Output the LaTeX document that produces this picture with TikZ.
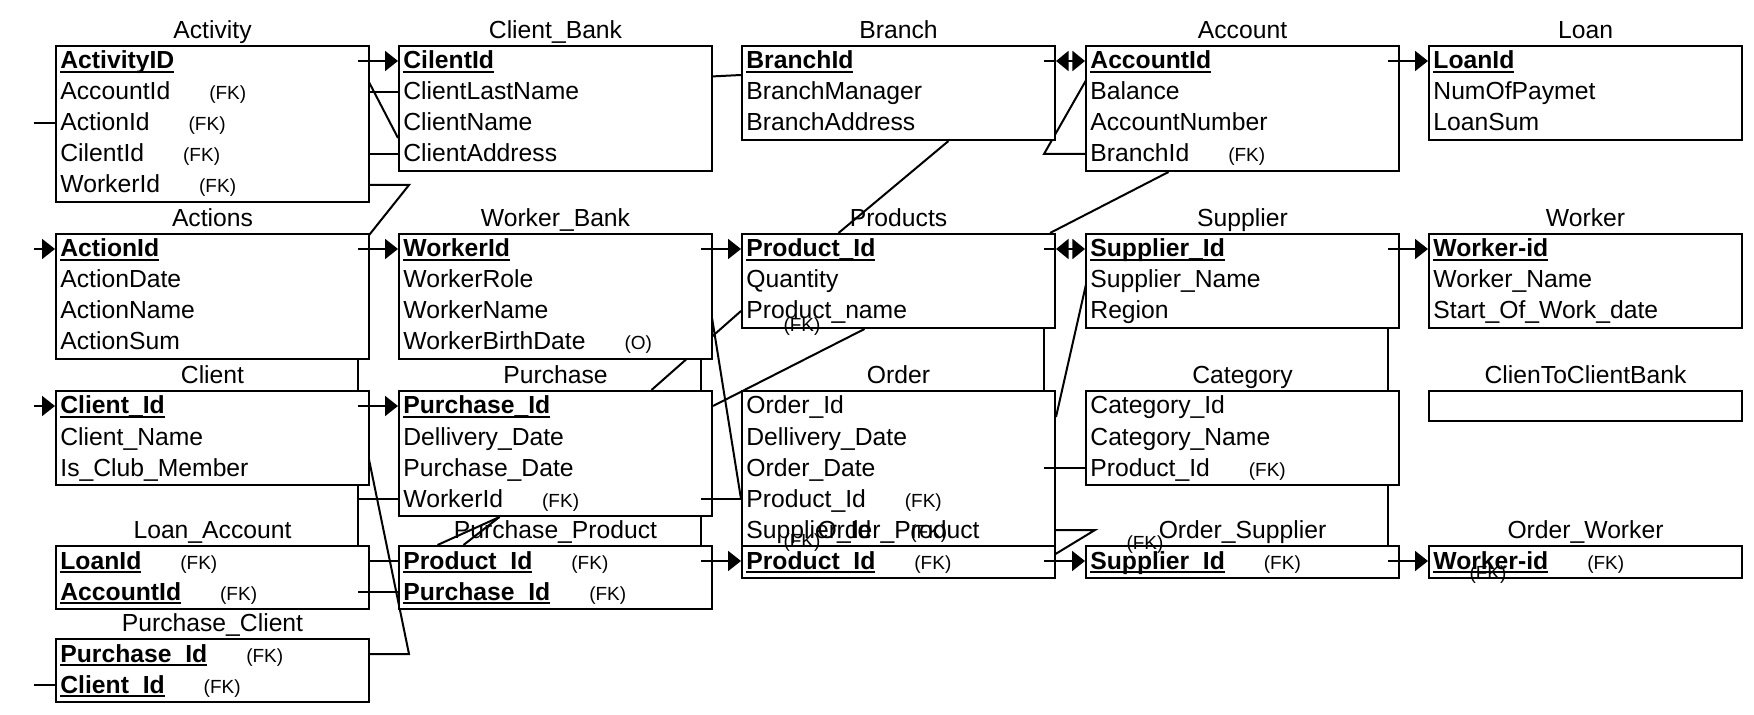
\documentclass[tikz,border=0pt]{standalone}
\usepackage{fontspec}
\setmainfont{Liberation Sans}
\usetikzlibrary{arrows.meta,positioning,calc,backgrounds}
\newcommand\pkey[1]{\setbox0\hbox{\textbf{#1}}\rlap{\rule[-2pt]{\wd0}{1pt}}\box0}
\newcommand\keynote[1]{\hspace{19.5pt}{\fontsize{9.5}{11}\selectfont(#1)}}
\newcommand\tblrows[2]{%
  \foreach \fieldtext [count=\i] in {#2}
    \node[field] (#1-\i) at ($(#1.north west)+(5,{24+31*(\i-1)})$) {\fieldtext};}

\begin{document}
\begin{tikzpicture}[
    x=0.5pt, y=-0.5pt,
    font=\fontsize{12.35}{15}\selectfont,
    label distance=0.5pt,
    tbl/.style={rectangle, draw, fill=white, line width=1pt, anchor=north west, inner sep=0pt, minimum width=156.5pt, minimum height={(31*#1+1)*0.5pt}},
    tbltitle/.style={inner sep=0pt, text height=10pt, text depth=2.5pt},
    field/.style={anchor=base west, inner sep=0pt, text height=10pt, text depth=2pt},
    stray/.style={inner sep=0pt, font=\fontsize{9.5}{11}\selectfont},
    link/.style={line width=1pt},
    arrow/.style={link, -{Triangle[length=6.5pt, width=10pt]}},
    darrow/.style={link, {Triangle[length=6.3pt, width=10pt]}-{Triangle[length=6.3pt, width=10pt]}}
]
\useasboundingbox (0,0) rectangle (1754,715);

% Row 1
\node[tbl=5, label={[tbltitle]above:Activity}] (activity) at (55,45) {};
\tblrows{activity}{\pkey{ActivityID}, AccountId\keynote{FK}, ActionId\keynote{FK}, CilentId\keynote{FK}, WorkerId\keynote{FK}}
\node[tbl=4, label={[tbltitle]above:Client\_Bank}] (clientbank) at (398,45) {};
\tblrows{clientbank}{\pkey{CilentId}, ClientLastName, ClientName, ClientAddress}
\node[tbl=3, label={[tbltitle]above:Branch}] (branch) at (741,45) {};
\tblrows{branch}{\pkey{BranchId}, BranchManager, BranchAddress}
\node[tbl=4, label={[tbltitle]above:Account}] (account) at (1085,45) {};
\tblrows{account}{\pkey{AccountId}, Balance, AccountNumber, BranchId\keynote{FK}}
\node[tbl=3, label={[tbltitle]above:Loan}] (loan) at (1428,45) {};
\tblrows{loan}{\pkey{LoanId}, NumOfPaymet, LoanSum}

% Row 2
\node[tbl=4, label={[tbltitle]above:Actions}] (actions) at (55,233) {};
\tblrows{actions}{\pkey{ActionId}, ActionDate, ActionName, ActionSum}
\node[tbl=4, label={[tbltitle]above:Worker\_Bank}] (workerbank) at (398,233) {};
\tblrows{workerbank}{\pkey{WorkerId}, WorkerRole, WorkerName, WorkerBirthDate\keynote{O}}
\node[tbl=3, label={[tbltitle]above:Products}] (products) at (741,233) {};
\tblrows{products}{\pkey{Product\_Id}, Quantity, Product\_name}
\node[tbl=3, label={[tbltitle]above:Supplier}] (supplier) at (1085,233) {};
\tblrows{supplier}{\pkey{Supplier\_Id}, Supplier\_Name, Region}
\node[tbl=3, label={[tbltitle]above:Worker}] (worker) at (1428,233) {};
\tblrows{worker}{\pkey{Worker-id}, Worker\_Name, Start\_Of\_Work\_date}

% Row 3
\node[tbl=3, label={[tbltitle]above:Client}] (client) at (55,390) {};
\tblrows{client}{\pkey{Client\_Id}, Client\_Name, Is\_Club\_Member}
\node[tbl=4, label={[tbltitle]above:Purchase}] (purchase) at (398,390) {};
\tblrows{purchase}{\pkey{Purchase\_Id}, Dellivery\_Date, Purchase\_Date, WorkerId\keynote{FK}}
\node[tbl=5, label={[tbltitle]above:Order}] (order) at (741,390) {};
\tblrows{order}{Order\_Id, Dellivery\_Date, Order\_Date, Product\_Id\keynote{FK}, Supplier\_Id\keynote{FK}}
\node[tbl=3, label={[tbltitle]above:Category}] (category) at (1085,390) {};
\tblrows{category}{Category\_Id, Category\_Name, Product\_Id\keynote{FK}}
\node[tbl=1, minimum height=15pt, label={[tbltitle]above:ClienToClientBank}] (clientlink) at (1428,390) {};

% Row 4 and 5
\node[tbl=2, label={[tbltitle]above:Loan\_Account}] (loanaccount) at (55,545) {};
\tblrows{loanaccount}{\pkey{LoanId}\keynote{FK}, \pkey{AccountId}\keynote{FK}}
\node[tbl=2, label={[tbltitle]above:Purchase\_Product}] (purchaseproduct) at (398,545) {};
\tblrows{purchaseproduct}{\pkey{Product\_Id}\keynote{FK}, \pkey{Purchase\_Id}\keynote{FK}}
\node[tbl=1, label={[tbltitle]above:Order\_Product}] (orderproduct) at (741,545) {};
\tblrows{orderproduct}{\pkey{Product\_Id}\keynote{FK}}
\node[tbl=1, label={[tbltitle]above:Order\_Supplier}] (ordersupplier) at (1085,545) {};
\tblrows{ordersupplier}{\pkey{Supplier\_Id}\keynote{FK}}
\node[tbl=1, label={[tbltitle]above:Order\_Worker}] (orderworker) at (1428,545) {};
\tblrows{orderworker}{\pkey{Worker-id}\keynote{FK}}
\node[tbl=2, label={[tbltitle]above:Purchase\_Client}] (purchaseclient) at (55,638) {};
\tblrows{purchaseclient}{\pkey{Purchase\_Id}\keynote{FK}, \pkey{Client\_Id}\keynote{FK}}

% Loose (FK) marks
\node[stray] (fkproducts) at (802,327) {(FK)};
\node[stray] (fkorder) at (802,543) {(FK)};
\node[stray] (fksupplier) at (1145,545) {(FK)};
\node[stray] (fkworker) at (1488,575) {(FK)};

% Free ends on the left
\coordinate (activityout) at ([xshift=-10.5pt]activity-3 -| activity.west);
\coordinate (actionsin) at ([xshift=-10.5pt]actions-1 -| actions.west);
\coordinate (clientin) at ([xshift=-10.5pt]client-1 -| client.west);
\coordinate (purchaseclientout) at ([xshift=-10.5pt]purchaseclient-2 -| purchaseclient.west);

% Arrows - key to key
\draw[arrow] ([xshift=-6pt]activity-1 -| activity.east) -- (activity-1 -| clientbank.west);
\draw[link] ([xshift=-6pt]branch-1 -| branch.east) -- (branch-1 -| branch.east);
\draw[darrow] (branch-1 -| branch.east) -- (branch-1 -| account.west);
\draw[arrow] ([xshift=-6pt]account-1 -| account.east) -- (account-1 -| loan.west);
\draw[arrow] (actionsin) -- (actions-1 -| actions.west);
\draw[arrow] ([xshift=-6pt]actions-1 -| actions.east) -- (actions-1 -| workerbank.west);
\draw[arrow] ([xshift=-6pt]workerbank-1 -| workerbank.east) -- (workerbank-1 -| products.west);
\draw[link] ([xshift=-6pt]products-1 -| products.east) -- (products-1 -| products.east);
\draw[darrow] (products-1 -| products.east) -- (products-1 -| supplier.west);
\draw[arrow] ([xshift=-6pt]supplier-1 -| supplier.east) -- (supplier-1 -| worker.west);
\draw[arrow] (clientin) -- (client-1 -| client.west);
\draw[arrow] ([xshift=-6pt]client-1 -| client.east) -- (client-1 -| purchase.west);
\draw[arrow] ([xshift=-6pt]purchaseproduct-1 -| purchaseproduct.east) -- (purchaseproduct-1 -| orderproduct.west);
\draw[arrow] ([xshift=-6pt]orderproduct-1 -| orderproduct.east) -- (orderproduct-1 -| ordersupplier.west);
\draw[arrow] ([xshift=-6pt]ordersupplier-1 -| ordersupplier.east) -- (ordersupplier-1 -| orderworker.west);

% Straight links
\draw[link] (activityout) -- (activity-3 -| activity.west);
\draw[link] (purchaseclientout) -- (purchaseclient-2 -| purchaseclient.west);
\draw[link] ([xshift=-6pt]purchase-4 -| purchase.east) -- (purchase-4 -| order.west);
\draw[link] ([xshift=-6pt]order-3 -| order.east) -- (order-3 -| category.west);
\draw[link] ([xshift=-6pt]loanaccount-2 -| loanaccount.east) -- (loanaccount-2 -| purchaseproduct.west);

% Links behind the tables
\begin{scope}[on background layer]
\draw[link] ([xshift=-6pt]activity-1 -| activity.east) -- ([yshift=8pt]clientbank-4 -| clientbank.west);
\draw[link] (activity-2 -| activity.east) -- (activity-2 -| clientbank.west);
\draw[link] (activity-4 -| activity.east) -- (activity-4 -| clientbank.west);
\draw[link] ([xshift=-6pt]activity-5 -| activity.east) -- ([xshift=19.5pt]activity-5 -| activity.east) -- ([xshift=-6pt]actions-1 -| actions.east);
\draw[link] ([xshift=-6pt,yshift=-8pt]clientbank-1 -| clientbank.east) -- ([yshift=-7pt]branch-1 -| branch.west);
\draw[link] ([xshift=6pt]account-1 -| account.west) -- ([xshift=-6pt]account-4 -| branch.east) -- ([xshift=6pt]account-4 -| account.west);
\draw[link] ([xshift=25pt]branch.south) -- ([xshift=-30pt]products.north);
\draw[link] ([xshift=-37pt]account.south) -- ([xshift=-3pt]products.north east);
\draw[link] (products-3 -| products.west) -- ([xshift=48pt]purchase.north);
\draw[link] ([xshift=-17pt]products.south) -- (purchase-1 -| purchase.east);
\draw[link] ([xshift=-6pt]workerbank-1 -| workerbank.east) -- (order-4 -| order.west);
\draw[link] ([xshift=4.5pt]supplier-1 -| supplier.west) -- ([yshift=-5.5pt]order-1 -| order.east);
\draw[link] ([xshift=-6pt]order-5 -| order.east) -- ([xshift=19.5pt]order-5 -| order.east) -- ([xshift=-6pt]orderproduct-1 -| orderproduct.east);
\draw[link] ([xshift=-28pt]purchase.south) -- ([xshift=-59pt]purchaseproduct.north);
\draw[link] ([xshift=-28pt]purchase.south) -- ([xshift=-46pt]purchaseproduct.north);
\draw[link] (loanaccount-1 -| loanaccount.east) -- (loanaccount-1 -| purchaseproduct.west);
\draw[link] ([xshift=-6pt]client-1 -| client.east) -- ([xshift=19.5pt]purchaseclient-1 -| purchaseclient.east) -- ([xshift=-6pt]purchaseclient-1 -| purchaseclient.east);
\draw[link] ([xshift=-6pt]actions.south east) -- ([xshift=-6pt]loanaccount.north east);
\draw[link] ([xshift=-6pt]purchase-4 -| client.east) -- (purchase-4 -| purchase.west);
\draw[link] ([xshift=-6pt]workerbank.south east) -- ([xshift=-6pt]purchaseproduct.north east);
\draw[link] ([xshift=-6pt]products.south east) -- ([xshift=-6pt]order.north east);
\draw[link] ([xshift=-6pt]supplier.south east) -- ([xshift=-6pt]ordersupplier.north east);
\end{scope}

\end{tikzpicture}
\end{document}
